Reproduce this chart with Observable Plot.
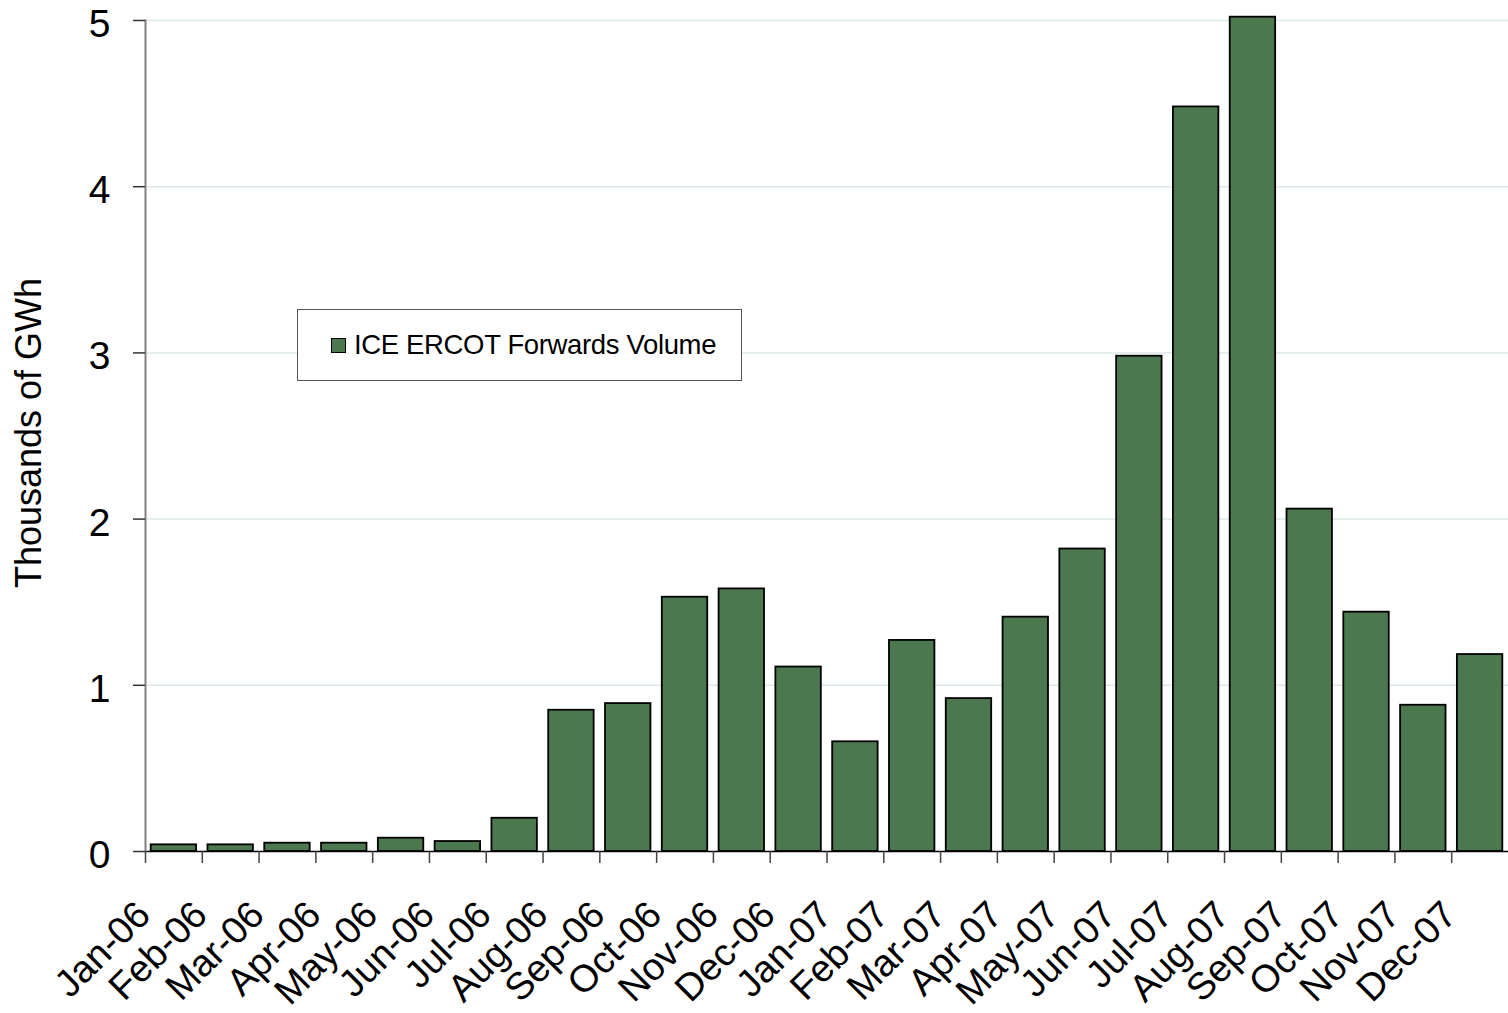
<!DOCTYPE html>
<html>
<head>
<meta charset="utf-8">
<script src="https://cdn.jsdelivr.net/npm/d3@7"></script>
<script src="https://cdn.jsdelivr.net/npm/@observablehq/plot@0.6"></script>
<style>
  html, body { margin: 0; padding: 0; background: #fff; }
  #wrap { position: relative; width: 1508px; height: 1013px; font-family: "Liberation Sans", Arial, sans-serif; }
  #legend {
    position: absolute; left: 297px; top: 309px; width: 445px; height: 72px;
    border: 1px solid #555; background: #fff; box-sizing: border-box;
    display: flex; align-items: center; padding-left: 33px;
    font-size: 27.5px; color: #000; letter-spacing: -0.35px;
  }
  #legend .sw { width: 13px; height: 13px; background: #4c7850; border: 1.5px solid #000; margin-right: 8px; box-sizing: content-box; }
</style>
</head>
<body>
<div id="wrap"></div>
<script>
const months = ["Jan-06","Feb-06","Mar-06","Apr-06","May-06","Jun-06","Jul-06","Aug-06","Sep-06","Oct-06","Nov-06","Dec-06",
                "Jan-07","Feb-07","Mar-07","Apr-07","May-07","Jun-07","Jul-07","Aug-07","Sep-07","Oct-07","Nov-07","Dec-07"];
const volumes = [0.04,0.04,0.05,0.05,0.08,0.06,0.20,0.85,0.89,1.53,1.58,1.11,
                 0.66,1.27,0.92,1.41,1.82,2.98,4.48,5.02,2.06,1.44,0.88,1.185];
const yTicks = [0,1,2,3,4,5];
const seriesName = "ICE ERCOT Forwards Volume";
const yTitle = "Thousands of GWh";

const data = months.map((m, i) => ({month: m, value: volumes[i]}));

const W = 1508, H = 1013, ML = 145, MR = 0, MT = 20, MB = 162;
const step = (W - ML - MR) / months.length;

const chart = Plot.plot({
  width: W, height: H,
  marginLeft: ML, marginRight: MR, marginTop: MT, marginBottom: MB,
  style: {fontFamily: "'Liberation Sans', Arial, sans-serif", background: "#fff", color: "#000", overflow: "visible"},
  x: {domain: months, paddingInner: 0.2, paddingOuter: 0.1, align: 0.5, round: false},
  y: {domain: [0, 5]},
  marks: [
    Plot.gridY(yTicks.filter(d => d > 0), {stroke: "#dce8e8", strokeOpacity: 1, strokeWidth: 1.5}),
    Plot.barY(data, {x: "month", y: "value", fill: "#4c7850", stroke: "#000", strokeWidth: 1.8}),
    Plot.ruleY([0], {stroke: "#000", strokeWidth: 1.5}),
    Plot.frame({anchor: "left", stroke: "#808080", strokeWidth: 2}),
    Plot.axisY({ticks: yTicks, tickSize: 12, stroke: "#333", strokeWidth: 1.5, tickFormat: () => "", label: null}),
    Plot.axisY({ticks: yTicks, tickSize: 0, tickPadding: 35, dy: 4, fontSize: 39, label: null, tickFormat: d => String(d)}),
    Plot.axisX({tickSize: 0, tickRotate: -45, tickPadding: 57, dx: -30, fontSize: 38, label: null}),
    Plot.axisX({tickSize: 12, tickFormat: () => "", dx: -step / 2, stroke: "#444", strokeWidth: 1.5, label: null}),
    Plot.text([yTitle], {frameAnchor: "left", textAnchor: "middle", dx: -116, dy: -3, rotate: -90, fontSize: 36, fill: "#000"})
  ]
});

const wrap = document.getElementById("wrap");
wrap.appendChild(chart);
const legend = document.createElement("div");
legend.id = "legend";
legend.innerHTML = `<span class="sw"></span><span>${seriesName}</span>`;
wrap.appendChild(legend);
</script>
</body>
</html>
